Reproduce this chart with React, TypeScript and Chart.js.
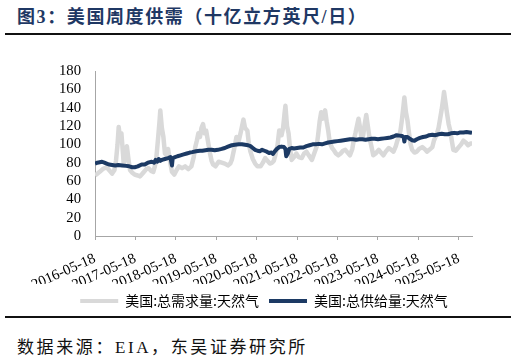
import React, { useEffect, useRef } from "react";
import { Chart, registerables } from "chart.js";

Chart.register(...registerables);

const titleText = "图3：美国周度供需（十亿立方英尺/日）";
const sourceText = "数据来源：EIA，东吴证券研究所";

const seriesNames = ["美国:总需求量:天然气", "美国:总供给量:天然气"];

// x positions in weeks since 2016-05-18
const tickWeeks = [0, 52, 104, 156, 208, 260, 312, 364, 416, 468];
const tickLabels = [
  "2016-05-18", "2017-05-18", "2018-05-18", "2019-05-18", "2020-05-18",
  "2021-05-18", "2022-05-18", "2023-05-18", "2024-05-18", "2025-05-18",
];
const lastWeek = 485;

const demandWeeks = [
  0, 3, 6, 10, 15, 19, 22, 25, 27, 29, 30.5, 32, 34, 36, 37, 39, 41, 43, 45, 48,
  51, 55, 58, 62, 66, 69, 72, 75, 77, 79, 81, 83, 84, 86, 88, 90, 92, 94, 96, 99,
  102, 105, 108, 112, 116, 120, 124, 127, 129, 131, 133, 135, 137, 139, 141, 143, 146, 148, 150, 152,
  155, 159, 163, 167, 171, 174, 176, 179, 182, 185, 188, 191, 193, 196, 198, 200, 203, 206, 209, 213,
  216, 219, 222, 225, 228, 230, 232, 235, 237, 240, 242, 244, 245, 247, 249, 251, 253, 256, 259, 262,
  266, 269, 272, 275, 279, 282, 285, 287, 289, 291, 293, 296, 298, 300, 302, 305, 307, 310, 313, 316,
  319, 322, 325, 328, 331, 333, 335, 337, 339, 341, 343, 345, 347, 349, 351, 353, 355, 358, 361, 365,
  368, 371, 374, 378, 381, 384, 387, 389, 391, 393, 395, 397, 398, 400, 402, 404, 406, 408, 411, 414,
  417, 421, 424, 427, 430, 434, 436, 438, 440, 442, 444, 446, 448, 449, 451, 453, 455, 457, 459, 461,
  464, 468, 471, 474, 477, 480, 483, 485,
];
const demandValues = [
  66, 68, 70, 73, 75, 71, 68, 72, 82, 100, 119, 108, 112, 90, 78, 88, 98, 84, 72, 69,
  67, 66, 65, 69, 73, 74, 71, 70, 76, 86, 105, 125, 137, 118, 108, 90, 88, 95, 84, 70,
  67, 72, 76, 74, 76, 73, 76, 86, 97, 104, 112, 108, 118, 122, 112, 115, 100, 90, 82, 78,
  76, 81, 80, 79, 77, 79, 83, 95, 108, 104, 115, 127, 118, 115, 100, 92, 84, 79, 76, 76,
  80, 85, 82, 79, 80, 82, 88, 100, 115, 110, 118, 135, 142, 120, 112, 95, 83, 86, 90, 86,
  85, 90, 92, 88, 83, 90, 97, 110, 125, 135, 128, 137, 125, 115, 102, 96, 94, 90, 88, 90,
  93, 94, 91, 88, 95, 105, 112, 120, 128, 118, 106, 110, 122, 132, 120, 108, 100, 88, 90, 94,
  91, 88, 92, 96, 94, 92, 98, 104, 108, 115, 128, 143, 151, 135, 126, 112, 100, 94, 91, 92,
  95, 97, 95, 92, 94, 97, 104, 108, 112, 118, 128, 138, 150, 157, 145, 133, 122, 115, 104, 94,
  93, 97, 100, 104, 102, 99, 101, 101,
];

const supplyWeeks = [
  0, 3, 6, 9, 12, 15, 18, 22, 26, 30, 35, 40, 44, 48, 51, 55, 60, 64, 68, 73,
  76, 78, 80, 82, 84, 86, 90, 94, 97, 99, 100, 103, 106, 110, 114, 118, 122, 125, 130, 135,
  138, 142, 146, 150, 154, 158, 163, 167, 171, 176, 180, 185, 189, 193, 197, 200, 203, 206, 209, 212,
  215, 218, 221, 224, 227, 229, 231, 234, 237, 240, 243, 245, 246, 248, 250, 253, 256, 260, 264, 268,
  272, 276, 280, 284, 288, 292, 296, 300, 304, 308, 312, 316, 320, 324, 328, 332, 336, 340, 344, 348,
  352, 356, 360, 364, 368, 372, 376, 380, 384, 388, 392, 395, 397, 398, 399, 402, 405, 408, 411, 414,
  418, 422, 426, 430, 434, 438, 442, 446, 450, 454, 458, 462, 466, 470, 474, 478, 482, 485,
];
const supplyValues = [
  79, 80, 80.5, 81, 80, 79, 78, 77.5, 77, 77.5, 77, 76.5, 76, 75, 75, 76, 78, 78, 80, 81,
  80, 83, 81, 84, 82, 83, 84, 85, 86, 77, 85, 86, 87, 88, 89, 90, 91, 91.5, 92.5, 93,
  93, 93.5, 94, 94, 93.5, 94, 95, 96, 97.5, 99, 99.5, 100, 100, 99.5, 99, 98, 96, 94, 93, 92.5,
  94, 93, 92, 90.5, 91, 89.5, 92, 95, 97, 97.5, 97, 95, 87, 90, 95, 96, 95.5, 96, 96.5, 96.5,
  98, 99, 100, 100, 100.5, 100, 101, 102, 102.5, 103, 103.5, 104, 104.5, 105, 105.5, 105.5, 105, 105.5, 105.5, 105,
  105.5, 106, 106, 105.5, 106, 106.5, 107, 107.5, 108.5, 110, 109.5, 109, 108, 103, 108, 108, 106, 104.5, 104, 105.5,
  107, 108, 108.5, 110, 110.5, 110, 111, 111.5, 111, 111, 112, 112.5, 112, 113, 113, 113.5, 113, 112.5,
];

const demandColor = "#D9D9D9";
const supplyColor = "#1C3A64";
const axisColor = "#A6A6A6";

function toPoints(weeks: number[], values: number[]) {
  return weeks.map((w, i) => ({ x: w, y: values[i] }));
}

export default function App() {
  const canvasRef = useRef<HTMLCanvasElement | null>(null);

  useEffect(() => {
    if (!canvasRef.current) return;
    const chart = new Chart(canvasRef.current, {
      type: "line",
      data: {
        datasets: [
          {
            label: seriesNames[0],
            data: toPoints(demandWeeks, demandValues),
            borderColor: demandColor,
            backgroundColor: demandColor,
            borderWidth: 4.5,
            pointRadius: 0,
            tension: 0,
            borderJoinStyle: "round",
            order: 2,
          },
          {
            label: seriesNames[1],
            data: toPoints(supplyWeeks, supplyValues),
            borderColor: supplyColor,
            backgroundColor: supplyColor,
            borderWidth: 4,
            pointRadius: 0,
            tension: 0,
            borderJoinStyle: "round",
            order: 1,
          },
        ],
      },
      options: {
        animation: false,
        responsive: false,
        maintainAspectRatio: false,
        layout: { padding: { top: 35, left: 56, right: 44, bottom: 18 } },
        plugins: {
          tooltip: { enabled: false },
          legend: {
            display: true,
            position: "bottom",
            labels: {
              boxWidth: 38,
              boxHeight: 4,
              padding: 10,
              color: "#222",
              font: { family: "'Noto Sans CJK SC'", size: 14 },
              sort: (a: any, b: any) => a.datasetIndex - b.datasetIndex,
              generateLabels: (c: any) =>
                c.data.datasets.map((ds: any, i: number) => ({
                  text: ds.label,
                  fillStyle: ds.borderColor,
                  strokeStyle: ds.borderColor,
                  lineWidth: 0,
                  hidden: false,
                  datasetIndex: i,
                })),
            },
          },
        },
        scales: {
          x: {
            type: "linear",
            min: 0,
            max: lastWeek,
            grid: {
              display: true,
              drawOnChartArea: false,
              drawTicks: true,
              tickLength: 4,
              color: axisColor,
            },
            border: { display: true, color: axisColor, width: 1 },
            afterBuildTicks: (axis: any) => {
              axis.ticks = tickWeeks.map((v) => ({ value: v }));
            },
            afterFit: (axis: any) => {
              axis.height = 48;
            },
            ticks: {
              autoSkip: false,
              minRotation: 24,
              maxRotation: 24,
              padding: 10,
              color: "#000",
              font: { family: "'Liberation Serif'", size: 14.7 },
              callback: (value: any) => {
                const idx = tickWeeks.indexOf(Number(value));
                return idx >= 0 ? tickLabels[idx] : "";
              },
            },
          },
          y: {
            min: 0,
            max: 180,
            grid: { display: false, drawTicks: false },
            border: { display: true, color: axisColor, width: 1 },
            afterFit: (axis: any) => {
              axis.width = 39;
            },
            ticks: {
              stepSize: 20,
              autoSkip: false,
              padding: 14,
              color: "#000",
              font: { family: "'Liberation Serif'", size: 14.7 },
            },
          },
        },
      },
    });
    return () => chart.destroy();
  }, []);

  return (
    <div
      style={{
        position: "absolute",
        left: 0,
        top: 0,
        width: 516,
        height: 364,
        background: "#fff",
        overflow: "hidden",
      }}
    >
      <div
        style={{
          position: "absolute",
          left: 17,
          top: 6,
          fontFamily: "'Liberation Serif', 'Noto Sans CJK SC'",
          fontWeight: "bold",
          fontSize: 18,
          lineHeight: "22px",
          letterSpacing: "1.6px",
          color: "#1F3864",
          whiteSpace: "nowrap",
        }}
      >
        {titleText}
      </div>
      <div
        style={{
          position: "absolute",
          left: 5,
          top: 33,
          width: 506,
          height: 2,
          background: "#111",
        }}
      />
      <canvas
        ref={canvasRef}
        width={516}
        height={300}
        style={{ position: "absolute", left: 0, top: 36, width: 516, height: 300 }}
      />
      <div
        style={{
          position: "absolute",
          left: 5,
          top: 316,
          width: 506,
          height: 2,
          background: "#111",
          zIndex: 2,
        }}
      />
      <div
        style={{
          position: "absolute",
          left: 17,
          top: 337,
          fontFamily: "'Liberation Serif', 'Noto Sans CJK SC'",
          fontSize: 17,
          lineHeight: "22px",
          letterSpacing: "2.6px",
          color: "#111",
          whiteSpace: "nowrap",
        }}
      >
        {sourceText}
      </div>
    </div>
  );
}
